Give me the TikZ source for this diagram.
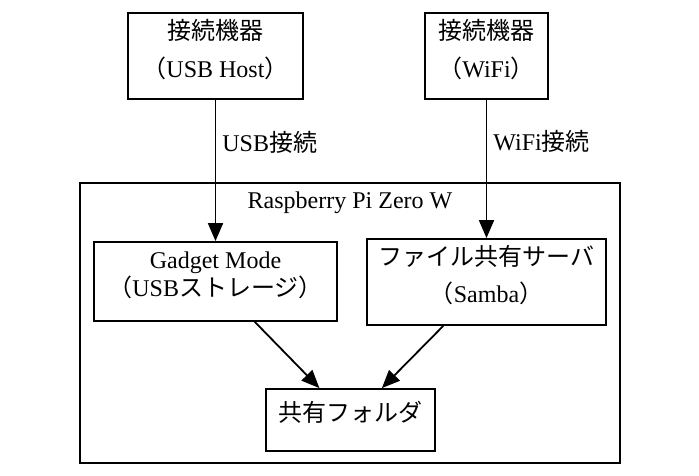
\documentclass[tikz,border=0pt]{standalone}
\usepackage{fontspec}
\setmainfont{Liberation Serif}
\newfontfamily\cjk{Noto Sans CJK JP}
\usetikzlibrary{arrows.meta}
\newcommand{\jp}[1]{{\cjk #1}}
\tikzset{every picture/.style={line width=1.8pt}}
\tikzset{
  box/.style={draw, rectangle, inner sep=0pt, align=center, font=\fontsize{24}{28}\selectfont},
  arr/.style={-{Triangle[length=18pt,width=15pt]}},
  lbl/.style={font=\fontsize{24}{28}\selectfont, inner sep=0pt},
}
\begin{document}
\begin{tikzpicture}[x=1pt,y=-1pt]
\useasboundingbox (0,0) rectangle (699,476);

% Raspberry Pi Zero W
\node [draw, rectangle, inner sep=0pt, minimum width=540, minimum height=280] (pizero) at (350,323) {};
\node [lbl] (pilabel) at (350,203) {Raspberry Pi Zero W};

\node [box, minimum width=175, minimum height=86, text depth=16pt] (hostusb) at (215.5,56) {\jp{接続機器}\\[10pt]\jp{（}USB Host\jp{）}};
\node [box, minimum width=123, minimum height=86, text depth=16pt] (hostwifi) at (486.5,56) {\jp{接続機器}\\[10pt]\jp{（}WiFi\jp{）}};
\node [box, minimum width=243, minimum height=79, text depth=14pt] (gadget) at (215.5,281.5) {Gadget Mode\\\jp{（}USB\jp{ストレージ）}};
\node [box, minimum width=239, minimum height=86, text depth=16pt] (samba) at (486.5,282) {\jp{ファイル共有サーバ}\\[9pt]\jp{（}Samba\jp{）}};
\node [box, minimum width=169, minimum height=62, text depth=18pt] (folder) at (350.5,420) {\jp{共有フォルダ}};

\draw [arr] (hostusb) -- (gadget) node [lbl, pos=0.3, right=6pt] (usblbl) {USB\jp{接続}};
\draw [arr] (hostwifi) -- (samba) node [lbl, pos=0.3, right=6pt] (wifilbl) {WiFi\jp{接続}};
\draw [arr] (gadget) -- (folder);
\draw [arr] (samba) -- (folder);

\end{tikzpicture}
\end{document}
